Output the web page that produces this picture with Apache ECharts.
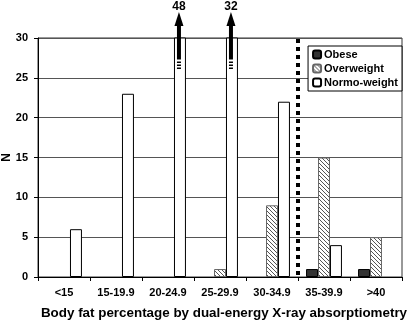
<!DOCTYPE html>
<html><head><meta charset="utf-8">
<script src="https://cdn.jsdelivr.net/npm/echarts@6/dist/echarts.min.js"></script>
<style>html,body{margin:0;padding:0;background:#fff}#c{width:408px;height:320px}</style>
</head><body><div id="c"></div>
<script>
const categories = ['<15','15-19.9','20-24.9','25-29.9','30-34.9','35-39.9','>40'];
const obese = [null,null,null,null,null,1,1];
const overweight = [null,null,null,1,9,15,5];
const normo = [6,23,48,32,22,4,null];
const yTicks = [0,5,10,15,20,25,30];
const overflow = [[2,48],[3,32]]; // [category index, true value] of bars exceeding axis max
const cutoffBetween = [4,5]; // dotted line between these categories

const FONT = '"Liberation Sans", Arial, sans-serif';
const pc = document.createElement('canvas');
pc.width = 4; pc.height = 4;
const g = pc.getContext('2d');
g.fillStyle = '#fff'; g.fillRect(0,0,4,4);
g.strokeStyle = '#555'; g.lineWidth = 1;
g.beginPath(); g.moveTo(-1,-1); g.lineTo(5,5); g.moveTo(-1,3); g.lineTo(1,5); g.moveTo(3,-1); g.lineTo(5,1); g.stroke();

const chart = echarts.init(document.getElementById('c'), null, {renderer:'canvas'});
const GAP = 0.31;
chart.setOption({
  animation:false,
  textStyle:{fontFamily:FONT},
  grid:{left:38,right:6,top:38,bottom:43,show:true,borderColor:'#333',borderWidth:1,containLabel:false,outerBoundsMode:'none'},
  legend:{
    orient:'vertical', right:6, top:46, backgroundColor:'#fff', borderColor:'#000', borderWidth:1,
    padding:[3,4,3,4], itemWidth:8, itemHeight:8, itemGap:3,
    textStyle:{fontFamily:FONT,fontWeight:'bold',fontSize:11,color:'#000',padding:[0,0,0,-2]},
    data:['Obese','Overweight','Normo-weight']
  },
  xAxis:{
    type:'category', data:categories,
    name:'Body fat percentage by dual-energy X-ray absorptiometry', nameLocation:'middle', nameGap:30, nameMoveOverlap:false,
    nameTextStyle:{fontFamily:FONT,fontWeight:'bold',fontSize:13.4,color:'#000',padding:[0,0,0,8]},
    axisLine:{lineStyle:{color:'#000',width:1}},
    axisTick:{show:true,length:4,lineStyle:{color:'#000'}},
    axisLabel:{margin:10,fontFamily:FONT,fontWeight:'bold',fontSize:11,color:'#000'}
  },
  yAxis:{
    type:'value', min:yTicks[0], max:yTicks[yTicks.length-1], interval:5,
    name:'N', nameLocation:'middle', nameGap:25, nameRotate:90, nameMoveOverlap:false,
    nameTextStyle:{fontFamily:FONT,fontWeight:'bold',fontSize:12,color:'#000'},
    axisLine:{show:true,lineStyle:{color:'#000',width:1}},
    axisTick:{show:true,length:4,lineStyle:{color:'#000'}},
    axisLabel:{margin:10,fontFamily:FONT,fontWeight:'bold',fontSize:11,color:'#000'},
    splitLine:{lineStyle:{color:'#555',width:1}}
  },
  series:[
    {name:'Obese',type:'bar',data:obese,barGap:'0%',barCategoryGap:(GAP*100)+'%',
      itemStyle:{color:'#333',borderColor:'#000',borderWidth:1}},
    {name:'Overweight',type:'bar',data:overweight,barGap:'0%',barCategoryGap:(GAP*100)+'%',
      itemStyle:{color:{image:pc,repeat:'repeat'},borderColor:'#666',borderWidth:1}},
    {name:'Normo-weight',type:'bar',data:normo,barGap:'0%',barCategoryGap:(GAP*100)+'%',
      itemStyle:{color:'#fff',borderColor:'#000',borderWidth:1}},
    {type:'custom', data:overflow, z:10, clip:false, silent:true,
      renderItem:function(params, api){
        const cat = api.value(0), v = api.value(1);
        const band = api.size([1,0])[0];
        const bw = band*(1-GAP)/3;
        const cx = api.coord([cat,0])[0] + bw - 1;
        const y0 = api.coord([cat,30])[1];
        const tip = y0-26, hb = y0-12, sb = y0+22;
        const ch = [
          {type:'polygon',shape:{points:[[cx,tip],[cx-4.5,hb],[cx+4.5,hb]]},style:{fill:'#000'}},
          {type:'rect',shape:{x:cx-2,y:hb-0.5,width:4,height:sb-hb},style:{fill:'#000'}},
          {type:'rect',shape:{x:cx-2,y:sb+1.5,width:4,height:1.5},style:{fill:'#000'}},
          {type:'rect',shape:{x:cx-2,y:sb+4.5,width:4,height:1.5},style:{fill:'#000'}},
          {type:'rect',shape:{x:cx-2,y:sb+7.5,width:4,height:1.5},style:{fill:'#000'}},
          {type:'text',style:{x:cx,y:tip+1,text:String(v),fill:'#000',font:'bold 12px '+FONT,textAlign:'center',textVerticalAlign:'bottom'}}
        ];
        return {type:'group',children:ch};
      }
    },
    {type:'custom', data:[cutoffBetween], z:9, clip:false, silent:true,
      renderItem:function(params, api){
        const xa = api.coord([api.value(0),0])[0], xb = api.coord([api.value(1),0])[0];
        const x = (xa+xb)/2;
        const yt = api.coord([0,30])[1], yb = api.coord([0,0])[1];
        return {type:'line',shape:{x1:x,y1:yt+1,x2:x,y2:yb},style:{stroke:'#000',lineWidth:4,lineDash:[4,4]}};
      }
    }
  ]
});
</script></body></html>
